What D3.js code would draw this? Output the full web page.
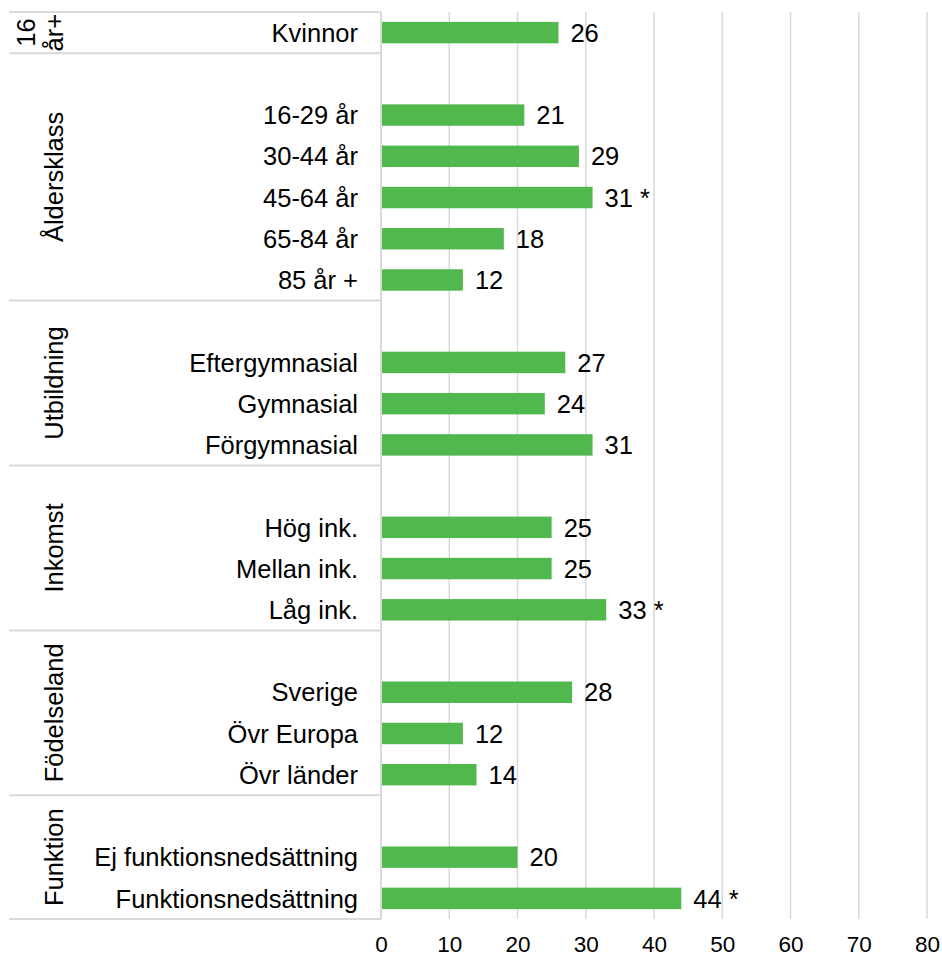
<!DOCTYPE html>
<html>
<head>
<meta charset="utf-8">
<script src="https://cdn.jsdelivr.net/npm/d3@7"></script>
<style>
  body { margin: 0; background: #fff; }
  text { font-family: "Liberation Sans", Arial, sans-serif; fill: #000; }
</style>
</head>
<body>
<div id="chart"></div>
<script>
// chart data, one entry per group
var groups = ["16 år+", "Åldersklass", "Utbildning", "Inkomst", "Födelseland", "Funktion"];
var categories = [
  ["Kvinnor"],
  ["16-29 år", "30-44 år", "45-64 år", "65-84 år", "85 år +"],
  ["Eftergymnasial", "Gymnasial", "Förgymnasial"],
  ["Hög ink.", "Mellan ink.", "Låg ink."],
  ["Sverige", "Övr Europa", "Övr länder"],
  ["Ej funktionsnedsättning", "Funktionsnedsättning"]
];
var values = [
  [26],
  [21, 29, 31, 18, 12],
  [27, 24, 31],
  [25, 25, 33],
  [28, 12, 14],
  [20, 44]
];
// significant difference marked with *
var stars = [
  [false],
  [false, false, true, false, false],
  [false, false, false],
  [false, false, true],
  [false, false, false],
  [false, true]
];
var xTicks = [0, 10, 20, 30, 40, 50, 60, 70, 80];

var width = 942;
var height = 957;
var plotTop = 12, plotBottom = 919;
var plotLeft = 381, plotRight = 927;
var barColor = "#50b84c";
var lineColor = "#d9d9d9";

// build the row list, every group except the first starts with an empty row
var rows = [];
var groupSpans = [];
groups.forEach(function(g, gi) {
  var start = rows.length;
  if (gi > 0) rows.push({key: "blank" + gi, label: "", value: null});
  categories[gi].forEach(function(c, ci) {
    rows.push({key: g + "|" + c, label: c, value: values[gi][ci], star: stars[gi][ci]});
  });
  groupSpans.push({name: g, start: start, end: rows.length});
});

var svg = d3.select("#chart")
  .append("svg")
  .attr("width", width)
  .attr("height", height);

var x = d3.scaleLinear()
  .domain([0, 80])
  .range([plotLeft, plotRight]);

var y = d3.scaleBand()
  .domain(rows.map(function(d) { return d.key; }))
  .range([plotTop, plotBottom])
  .paddingInner(0.48)
  .paddingOuter(0.24);

var step = (plotBottom - plotTop) / rows.length;

// gridlines
svg.append("g")
  .selectAll("line")
  .data(xTicks.slice(1))
  .enter().append("line")
  .attr("x1", function(d) { return x(d); })
  .attr("x2", function(d) { return x(d); })
  .attr("y1", plotTop)
  .attr("y2", plotBottom)
  .attr("stroke", lineColor)
  .attr("stroke-width", 1.5);

// category table lines on the left
var bounds = [0].concat(groupSpans.map(function(s) { return s.end; }));
svg.append("g")
  .selectAll("line")
  .data(bounds)
  .enter().append("line")
  .attr("x1", 9)
  .attr("x2", plotLeft)
  .attr("y1", function(d) { return plotTop + d * step; })
  .attr("y2", function(d) { return plotTop + d * step; })
  .attr("stroke", lineColor)
  .attr("stroke-width", 2);

svg.append("line")
  .attr("x1", plotLeft).attr("x2", plotLeft)
  .attr("y1", plotTop).attr("y2", plotBottom)
  .attr("stroke", lineColor)
  .attr("stroke-width", 2);

// bars
var dataRows = rows.filter(function(d) { return d.value !== null; });

svg.append("g")
  .selectAll("rect")
  .data(dataRows)
  .enter().append("rect")
  .attr("x", x(0) + 1)
  .attr("y", function(d) { return y(d.key); })
  .attr("width", function(d) { return x(d.value) - x(0) - 1; })
  .attr("height", y.bandwidth())
  .attr("fill", barColor);

// value labels
svg.append("g")
  .selectAll("text")
  .data(dataRows)
  .enter().append("text")
  .attr("x", function(d) { return x(d.value) + 12; })
  .attr("y", function(d) { return y(d.key) + y.bandwidth() / 2; })
  .attr("dy", "0.36em")
  .style("font-size", "25.5px")
  .text(function(d) { return d.value + (d.star ? " *" : ""); });

// category labels
svg.append("g")
  .selectAll("text")
  .data(dataRows)
  .enter().append("text")
  .attr("x", 358)
  .attr("y", function(d) { return y(d.key) + y.bandwidth() / 2; })
  .attr("dy", "0.36em")
  .style("font-size", "25.5px")
  .style("text-anchor", "end")
  .text(function(d) { return d.label; });

// group labels, rotated; the first one is wrapped on two lines
groupSpans.forEach(function(s, i) {
  var cy = plotTop + (s.start + s.end) / 2 * step;
  var lines = i === 0 ? ["16", "år+"] : [s.name];
  lines.forEach(function(line, li) {
    var bx = lines.length === 2 ? 35 + li * 28 : 63;
    svg.append("text")
      .attr("transform", "translate(" + bx + "," + cy + ") rotate(-90)")
      .style("font-size", "25.5px")
      .style("text-anchor", "middle")
      .text(line);
  });
});

// x axis
var axis = svg.append("g")
  .attr("transform", "translate(0," + plotBottom + ")")
  .call(d3.axisBottom(x).tickValues(xTicks).tickSize(0).tickPadding(17));
axis.select(".domain").remove();
axis.selectAll("text")
  .style("font-size", "22.5px")
  .style("font-family", "'Liberation Sans', Arial, sans-serif")
  .attr("fill", "#000");
</script>
</body>
</html>
